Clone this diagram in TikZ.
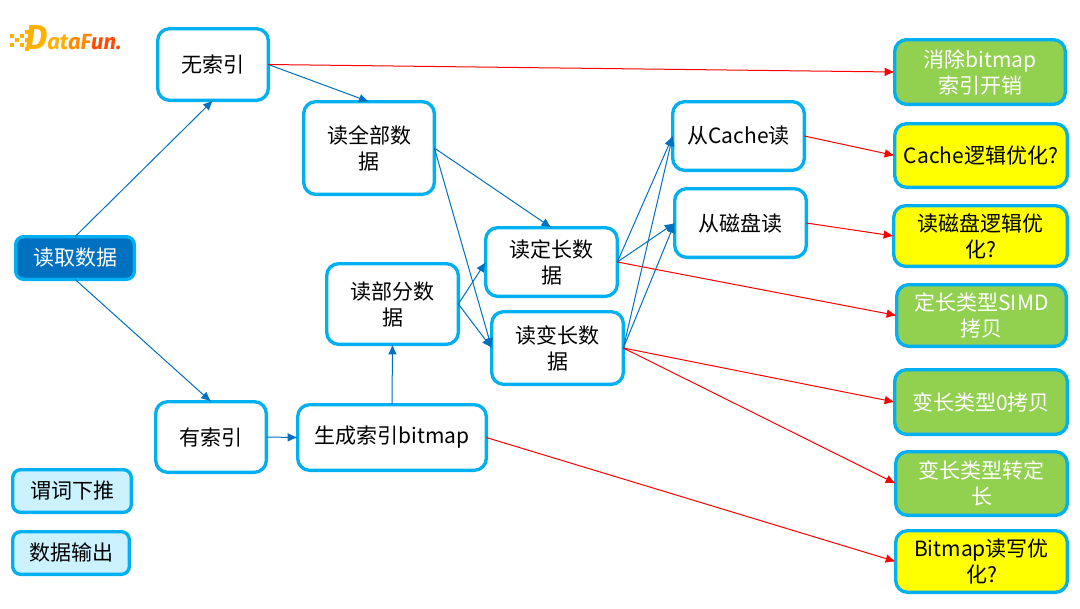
\documentclass[tikz,border=0pt]{standalone}
\usepackage{fontspec}
\setmainfont{Noto Sans CJK SC}
\newfontfamily\logofont{Fira Sans}
\usepackage{xcolor}
\usetikzlibrary{arrows.meta,positioning}
\definecolor{mborder}{HTML}{00B0F0}
\definecolor{mblue}{HTML}{0070C0}
\definecolor{mgreen}{HTML}{92D050}
\definecolor{mred}{HTML}{FF0000}
\definecolor{mcyan}{HTML}{CCF2FF}
\definecolor{myellow}{HTML}{FFFF00}
\definecolor{mlogoa}{HTML}{FFB000}
\definecolor{mlogob}{HTML}{FF8A00}
\definecolor{mlogoc}{HTML}{FF4A00}
\tikzstyle{box}=[rectangle, rounded corners=9pt, draw=mborder, line width=2.5pt, outer sep=0pt, fill=white, inner sep=0pt, align=center, font=\fontsize{15.75}{19.5}\selectfont]
\tikzstyle{sbox}=[box, minimum width=89pt, minimum height=32pt, rounded corners=6pt, fill=mcyan]
\tikzstyle{gbox}=[box, fill=mgreen, text=white]
\tikzstyle{ybox}=[box, fill=myellow]
\tikzstyle{l1}=[draw=mblue, line width=0.75pt, -{Latex[length=7.5pt,width=6.5pt]}]
\tikzstyle{l2}=[draw=mred, line width=0.75pt, -{Latex[length=7.5pt,width=6.5pt]}]
\tikzstyle{logotext}=[inner sep=0pt, outer sep=0pt, font=\logofont\bfseries\itshape]
\begin{document}
\begin{tikzpicture}[x=0.75pt, y=-0.75pt]
    \useasboundingbox (0,0) rectangle (1080,608);
    \fill[white] (0,0) rectangle (1080,608);

    % logo
    \foreach \px/\py in {10/34,10/43,15/38,20/34,20/43,25/30,25/38,25/47}
        \fill[mlogoa] (\px,\py) rectangle ++(3.5,3.5);
    \node[logotext, anchor=base west, text=mlogoa, font=\logofont\bfseries\itshape\fontsize{26}{26}\selectfont] at (25,49) (logod) {D};
    \node[logotext, anchor=base west, font=\logofont\bfseries\itshape\fontsize{16.5}{16.5}\selectfont] at (logod.base east) (logo) {\textcolor{mlogoa}{at}\textcolor{mlogob}{aF}\textcolor{mlogoc}{un.}};

    \node[box, fill=mblue, text=white, minimum width=89pt, minimum height=32pt, rounded corners=6pt] at (75,258) (read) {读取数据};
    \node[sbox] at (72,491) (push) {谓词下推};
    \node[sbox, minimum width=87.5pt] at (71,553) (output) {数据输出};

    \node[box, minimum width=83pt, minimum height=53.75pt] at (213,64.5) (noidx) {无索引};
    \node[box, minimum width=83pt, minimum height=53pt] at (211,437) (hasidx) {有索引};
    \node[box, minimum width=98pt, minimum height=69.5pt] at (369,148) (all) {读全部数\\据};
    \node[box, minimum width=141.5pt, minimum height=49.25pt] at (392,437.5) (bitmap) {生成索引bitmap};
    \node[box, minimum width=98.75pt, minimum height=60.5pt] at (392.5,304) (part) {读部分数\\据};
    \node[box, minimum width=98.75pt, minimum height=51.5pt] at (551.5,262) (fixed) {读定长数\\据};
    \node[box, minimum width=98.75pt, minimum height=54.5pt] at (557.5,348) (var) {读变长数\\据};
    \node[box, minimum width=98.75pt, minimum height=51.5pt] at (738.5,136) (cache) {从Cache读};
    \node[box, minimum width=98.75pt, minimum height=51.5pt] at (740.5,223) (disk) {从磁盘读};

    \node[gbox, minimum width=128pt, minimum height=48.5pt] at (980,72) (r1) {消除bitmap\\索引开销};
    \node[ybox, minimum width=129.5pt, minimum height=47.75pt] at (981,155.5) (r2) {Cache逻辑优化?};
    \node[ybox, minimum width=130.25pt, minimum height=45.5pt] at (980.5,236) (r3) {读磁盘逻辑优\\化?};
    \node[gbox, minimum width=127.25pt, minimum height=46.25pt] at (981.5,315.5) (r4) {定长类型SIMD\\拷贝};
    \node[gbox, minimum width=129.5pt, minimum height=48.5pt] at (981,402) (r5) {变长类型0拷贝};
    \node[gbox, minimum width=128.75pt, minimum height=47.75pt] at (981.5,483.5) (r6) {变长类型转定\\长};
    \node[ybox, minimum width=128.75pt, minimum height=46.25pt] at (981.5,561.5) (r7) {Bitmap读写优\\化?};

    \draw[l1] (read.north) -- (noidx.south);
    \draw[l1] (read.south) -- (hasidx.north);
    \draw[l1] (noidx.east) -- (all.north);
    \draw[l1] (all.east) -- (fixed.north);
    \draw[l1] (all.east) -- (var.west);
    \draw[l1] (hasidx.east) -- (bitmap.west);
    \draw[l1] (bitmap.north) -- (part.south);
    \draw[l1] (part.east) -- (fixed.west);
    \draw[l1] (part.east) -- (var.west);
    \draw[l1] (fixed.east) -- (cache.west);
    \draw[l1] (fixed.east) -- (disk.west);
    \draw[l1] (var.east) -- (cache.west);
    \draw[l1] (var.east) -- (disk.west);

    \draw[l2] (noidx.east) -- (r1.west);
    \draw[l2] (cache.east) -- (r2.west);
    \draw[l2] (disk.east) -- (r3.west);
    \draw[l2] (fixed.east) -- (r4.west);
    \draw[l2] (var.east) -- (r5.west);
    \draw[l2] (var.east) -- (r6.west);
    \draw[l2] (bitmap.east) -- (r7.west);
\end{tikzpicture}
\end{document}
